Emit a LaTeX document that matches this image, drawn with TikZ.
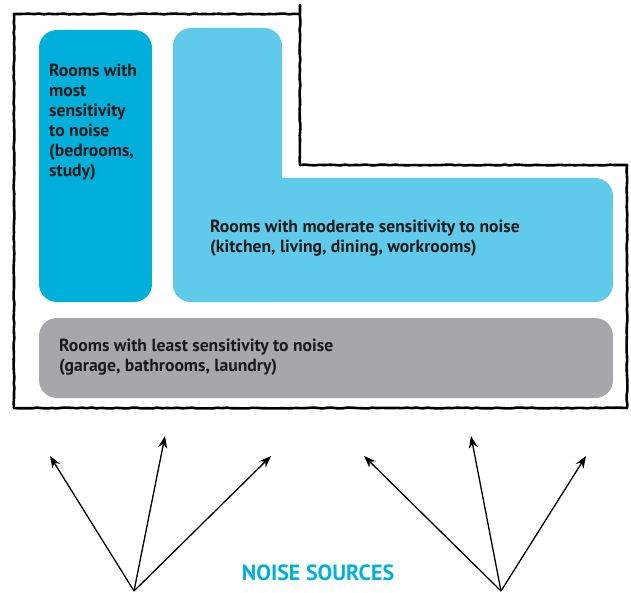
\documentclass[tikz,border=0pt]{standalone}
\usepackage{fontspec}
\setmainfont{PT Sans}
\usetikzlibrary{arrows.meta,decorations.pathmorphing}
\definecolor{darkblue}{HTML}{00B0DB}
\definecolor{lightblue}{HTML}{5FCAEA}
\definecolor{roomgray}{HTML}{A6A7AA}
\definecolor{txt}{HTML}{1A1A1A}
\tikzset{
  room/.style={inner sep=0pt, outer sep=0pt, rounded corners=18pt},
  roomtext/.style={anchor=north west, inner sep=0pt, align=left, text=txt,
    font=\fontsize{17.6}{20}\selectfont\bfseries},
  wall/.style={line width=2.6pt, black, line join=round, line cap=round,
    decorate, decoration={random steps, segment length=5pt, amplitude=0.45pt}},
  noise/.style={line width=1.3pt, -{Stealth[length=12pt, width=9pt]}},
}
\begin{document}
\begin{tikzpicture}[x=1pt,y=-1pt]
\useasboundingbox (0,0) rectangle (631,593);
% wall
\draw[wall] (14,408) -- (14,14) -- (300,14);
\draw[wall] (300,5) -- (300,165) -- (627,165) -- (627,408) -- (14,408);
% rooms
\fill[room, darkblue] (39,30) rectangle (152,302);
\fill[room, lightblue] (173,28) rectangle (282,302);
\fill[room, lightblue] (173,178) rectangle (613,302);
\fill[room, roomgray] (39,318) rectangle (613,398);
% texts
\node[roomtext] (most) at (49,64) {Rooms with\\most\\sensitivity\\to noise\\(bedrooms,\\study)};
\node[roomtext] (moderate) at (210,220) {Rooms with moderate sensitivity to noise\\(kitchen, living, dining, workrooms)};
\node[roomtext] (least) at (59,339) {Rooms with least sensitivity to noise\\(garage, bathrooms, laundry)};
\node[anchor=base, inner sep=0pt, text=darkblue, font=\fontsize{22}{24}\selectfont\bfseries] (src) at (318,580) {NOISE SOURCES};
% arrows
\coordinate (s1) at (134,591);
\coordinate (s2) at (501,591);
\coordinate (a1) at (50,456);
\coordinate (a2) at (165,436);
\coordinate (a3) at (271,456);
\coordinate (b1) at (364,456);
\coordinate (b2) at (471,436);
\coordinate (b3) at (586,456);
\foreach \t in {a1,a2,a3} \draw[noise] (s1) -- (\t);
\foreach \t in {b1,b2,b3} \draw[noise] (s2) -- (\t);
\end{tikzpicture}
\end{document}
